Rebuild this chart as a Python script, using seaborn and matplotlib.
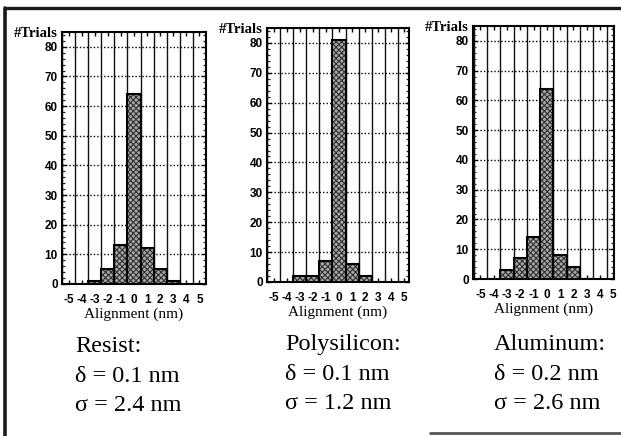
import matplotlib
matplotlib.use("Agg")
import matplotlib.pyplot as plt
import numpy as np
import pandas as pd
import seaborn as sns
from matplotlib.lines import Line2D
from matplotlib.patches import Rectangle
from matplotlib.ticker import MultipleLocator, FixedLocator

# Histogram bins (nm) and trial counts per layer
alignment = [-3, -2, -1, 0, 1, 2, 3]
resist = [1, 5, 13, 64, 12, 5, 1]
polysilicon = [2, 2, 7, 81, 6, 2, 0]
aluminum = [3, 7, 14, 64, 8, 4, 0]

materials = ["Resist", "Polysilicon", "Aluminum"]
deltas = [0.1, 0.1, 0.2]
sigmas = [2.4, 1.2, 2.6]

x_ticks = [-5, -4, -3, -2, -1, 0, 1, 2, 3, 4, 5]
y_ticks = [0, 10, 20, 30, 40, 50, 60, 70, 80]

sns.set_theme(style="white")
plt.rcParams["axes.unicode_minus"] = False
plt.rcParams["hatch.linewidth"] = 0.8

W, H = 621, 436
fig = plt.figure(figsize=(W / 100, H / 100), dpi=100)
fig.patch.set_facecolor("white")

# axes boxes in pixels: left, top, right, bottom
boxes = [(62, 32, 206, 284), (267, 28, 409, 282), (473, 26, 614, 279)]
xlims = [(-5.5, 5.5), (-5.5, 5.35), (-5.55, 5.05)]
series = [resist, polysilicon, aluminum]
text_left = [75, 285, 494]
text_shift = [2, 0, 0]

tick_font = dict(family="Liberation Sans", weight="bold", size=8.5)

for box, xl, counts in zip(boxes, xlims, series):
    l, t, r, b = box
    ax = fig.add_axes([l / W, 1 - b / H, (r - l) / W, (b - t) / H])
    df = pd.DataFrame({"Alignment": alignment, "Trials": counts})
    sns.barplot(data=df, x="Alignment", y="Trials", native_scale=True,
                width=1.0, color="#a8a8a8", edgecolor="#303030",
                linewidth=0, hatch="xxxxxx", ax=ax, zorder=3)
    for p in list(ax.patches):
        ax.add_patch(Rectangle(p.get_xy(), p.get_width(), p.get_height(),
                               fill=False, edgecolor="black", lw=1.5, zorder=4))
    ax.set_xlim(*xl)
    ax.set_ylim(0, 85)

    ax.xaxis.set_major_locator(FixedLocator(x_ticks))
    ax.xaxis.set_minor_locator(MultipleLocator(1, offset=0.5))
    ax.yaxis.set_major_locator(FixedLocator(y_ticks))
    ax.yaxis.set_minor_locator(MultipleLocator(2))

    ax.grid(which="minor", axis="x", color="#111111", lw=1.0, ls="-", zorder=1)
    ax.grid(which="major", axis="y", color="black", lw=1.0, ls=(0, (1, 1.5)), zorder=1)
    ax.grid(which="major", axis="x", visible=False)
    ax.set_axisbelow(True)

    ax.tick_params(axis="x", which="major", direction="in", length=3, width=1,
                   top=True, bottom=True, pad=7, colors="black")
    ax.tick_params(axis="x", which="minor", length=0)
    ax.tick_params(axis="y", which="major", direction="in", length=3, width=1,
                   left=True, right=True, pad=3, colors="black")
    ax.tick_params(axis="y", which="minor", direction="in", length=2.2, width=0.9,
                   left=True, right=True)
    ax.set_xticklabels([str(v) for v in x_ticks], fontdict=tick_font)
    ax.set_yticklabels([str(v) for v in y_ticks], fontdict=tick_font)

    for s in ax.spines.values():
        s.set_color("black")
        s.set_linewidth(1.5)

    ax.set_xlabel("Alignment (nm)", family="Liberation Serif", size=11,
                  color="black", labelpad=1.5)
    ax.set_ylabel("")
    ax.annotate("#Trials", xy=(0, 1), xycoords="axes fraction",
                xytext=(-3, -1), textcoords="offset points",
                ha="right", va="center", family="Liberation Serif",
                weight="bold", size=10.5, color="black")

big = dict(family="Liberation Serif", size=17.5, color="black", va="baseline")
for name, d, s, x0, dy in zip(materials, deltas, sigmas, text_left, text_shift):
    fig.text(x0 / W, 1 - (350 + dy) / H, f"{name}:", **big)
    fig.text(x0 / W, 1 - (380 + dy) / H, f"δ = {d} nm", **big)
    fig.text(x0 / W, 1 - (409 + dy) / H, f"σ = {s} nm", **big)

# page frame
fig.add_artist(Line2D([5 / W, 5 / W], [0, 1 - 8 / H], transform=fig.transFigure,
                      color="#1a1a1a", lw=2.6))
fig.add_artist(Line2D([5 / W, 1], [1 - 8 / H, 1 - 8 / H], transform=fig.transFigure,
                      color="#1a1a1a", lw=2.4))
fig.add_artist(Line2D([430 / W, 1], [1 - 433 / H, 1 - 433 / H], transform=fig.transFigure,
                      color="#555555", lw=2.0))

fig.savefig("out.png", dpi=100)
